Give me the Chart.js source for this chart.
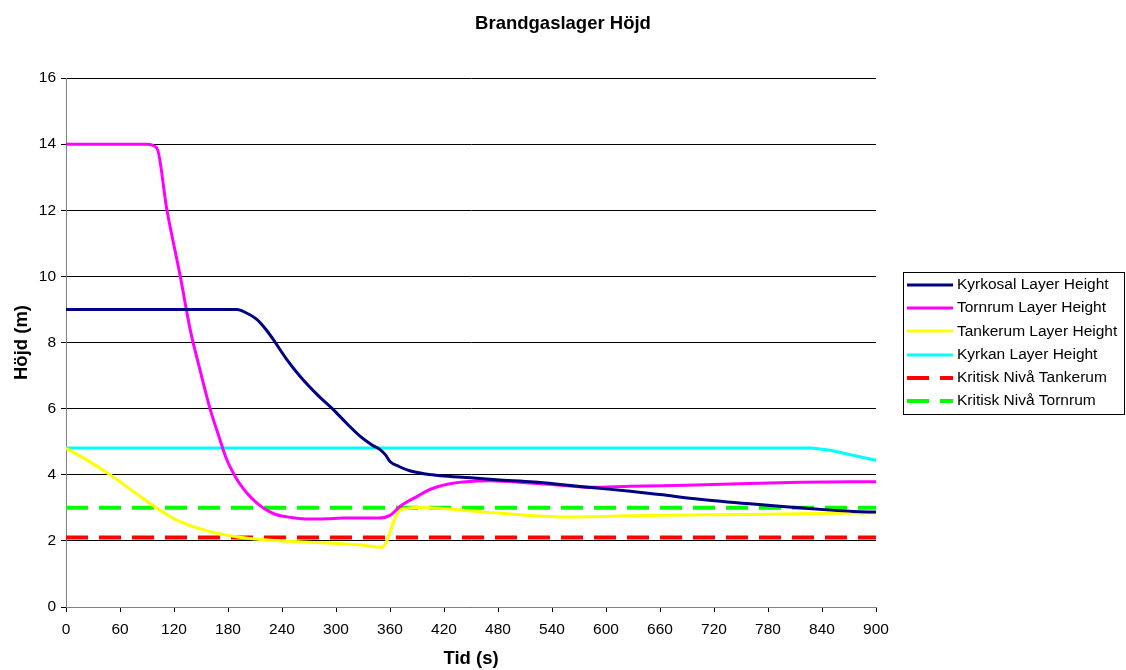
<!DOCTYPE html>
<html>
<head>
<meta charset="utf-8">
<title>Brandgaslager Höjd</title>
<script src="https://cdn.jsdelivr.net/npm/chart.js@4.4.1/dist/chart.umd.min.js"></script>
<style>
  html, body { margin: 0; padding: 0; background: #fff; }
  #wrap { width: 1126px; height: 670px; }
</style>
</head>
<body>
<div id="wrap"><canvas id="heightChart" width="1126" height="670"></canvas></div>
<script>
  // Data (time in s, height in m)
  const kyrkosalTime = [0, 190, 200, 212, 222, 230, 245, 260, 280, 297, 312, 327, 340, 349, 355, 360, 370, 382, 400, 416, 450, 478, 520, 552, 593, 627, 660, 704, 760, 816, 850, 875, 900];
  const kyrkosalHeight = [9, 9, 8.9, 8.7, 8.4, 8.1, 7.5, 6.98, 6.4, 5.97, 5.55, 5.16, 4.9, 4.76, 4.6, 4.4, 4.25, 4.12, 4.02, 3.97, 3.91, 3.85, 3.78, 3.7, 3.59, 3.5, 3.4, 3.26, 3.12, 3.0, 2.93, 2.89, 2.87];

  const tornrumTime = [0, 90, 101, 112, 127, 138, 150, 160, 170, 178, 188, 197, 206, 216, 225, 234, 250, 271, 290, 308, 330, 349, 360, 371, 380, 390, 400, 412, 425, 441, 471, 516, 550, 582, 627, 700, 816, 900];
  const tornrumHeight = [14, 14, 13.88, 12.03, 10.0, 8.39, 7.05, 6.0, 5.15, 4.5, 3.95, 3.58, 3.3, 3.06, 2.9, 2.79, 2.71, 2.66, 2.67, 2.69, 2.69, 2.69, 2.77, 3.04, 3.2, 3.34, 3.5, 3.63, 3.72, 3.78, 3.82, 3.75, 3.68, 3.62, 3.65, 3.69, 3.77, 3.79];

  const tankerumTime = [0, 23, 49, 75, 101, 127, 160, 193, 216, 271, 327, 351, 371, 391, 479, 552, 600, 627, 760, 900];
  const tankerumHeight = [4.8, 4.45, 4.0, 3.49, 2.99, 2.58, 2.28, 2.11, 2.04, 1.96, 1.88, 1.81, 2.92, 3.01, 2.84, 2.72, 2.74, 2.76, 2.8, 2.85];

  const kyrkanTime = [0, 829, 849, 900];
  const kyrkanHeight = [4.81, 4.81, 4.74, 4.44];

  const critTime = [0, 900];
  const critTankerum = [2.1, 2.1];
  const critTornrum = [3.0, 3.0];

  const seriesLabels = [
    "Kyrkosal Layer Height",
    "Tornrum Layer Height",
    "Tankerum Layer Height",
    "Kyrkan Layer Height",
    "Kritisk Nivå Tankerum",
    "Kritisk Nivå Tornrum",
  ];
  const seriesColors = ["#000080", "#ff00ff", "#ffff00", "#00ffff", "#ff0000", "#00ff00"];

  const xTicks = [0, 60, 120, 180, 240, 300, 360, 420, 480, 540, 600, 660, 720, 780, 840, 900];
  const yTicks = [0, 2, 4, 6, 8, 10, 12, 14, 16];

  const FONT = "'Liberation Sans', Arial, sans-serif";

  function toPoints(times, values) {
    return times.map((t, i) => ({ x: t, y: values[i] }));
  }

  function lineSet(idx, times, values, dashed, smooth) {
    return {
      label: seriesLabels[idx],
      data: toPoints(times, values),
      borderColor: seriesColors[idx],
      backgroundColor: seriesColors[idx],
      borderWidth: dashed ? 4 : 3,
      borderDash: dashed ? [22, 11] : [],
      borderCapStyle: "butt",
      pointRadius: 0,
      cubicInterpolationMode: smooth ? "monotone" : "default",
      tension: 0,
      fill: false,
    };
  }

  // Legend drawn as a bordered box on the right, like the original
  const boxLegend = {
    id: "boxLegend",
    afterDraw(chart) {
      const ctx = chart.ctx;
      const left = 903, top = 272, w = 221, h = 142;
      ctx.save();
      ctx.strokeStyle = "#000";
      ctx.lineWidth = 1;
      ctx.strokeRect(left + 0.5, top + 0.5, w, h);
      ctx.font = "15.5px " + FONT;
      ctx.fillStyle = "#000";
      ctx.textBaseline = "middle";
      chart.data.datasets.forEach((ds, i) => {
        const y = top + 13 + i * 23.2;
        ctx.beginPath();
        ctx.strokeStyle = ds.borderColor;
        ctx.lineWidth = ds.borderWidth;
        ctx.setLineDash(ds.borderDash.length ? ds.borderDash : []);
        ctx.moveTo(907, Math.round(y));
        ctx.lineTo(953, Math.round(y));
        ctx.stroke();
        ctx.setLineDash([]);
        ctx.fillText(ds.label, 957, y);
      });
      ctx.restore();
    },
  };

  const ctx = document.getElementById("heightChart");
  new Chart(ctx, {
    type: "line",
    data: {
      datasets: [
        lineSet(0, kyrkosalTime, kyrkosalHeight, false, true),
        lineSet(1, tornrumTime, tornrumHeight, false, true),
        lineSet(2, tankerumTime, tankerumHeight, false, true),
        lineSet(3, kyrkanTime, kyrkanHeight, false, false),
        lineSet(4, critTime, critTankerum, true, false),
        lineSet(5, critTime, critTornrum, true, false),
      ],
    },
    options: {
      responsive: false,
      animation: false,
      layout: { padding: 0 },
      plugins: {
        legend: { display: false },
        tooltip: { enabled: false },
        title: {
          display: true,
          text: "Brandgaslager Höjd",
          color: "#000",
          font: { family: FONT, size: 18.5, weight: "bold" },
          padding: { top: 13, bottom: 42.8 },
        },
      },
      scales: {
        x: {
          type: "linear",
          min: 0,
          max: 900,
          afterFit: (scale) => { scale.height = 63; },
          afterBuildTicks: (scale) => { scale.ticks = xTicks.map((v) => ({ value: v })); },
          ticks: {
            color: "#000",
            font: { family: FONT, size: 15.5 },
            padding: 8,
            maxRotation: 0,
            autoSkip: false,
          },
          grid: { drawOnChartArea: false, drawTicks: true, tickLength: 5, tickColor: "#000" },
          border: { color: "#808080", width: 1 },
          title: {
            display: true,
            text: "Tid (s)",
            color: "#000",
            font: { family: FONT, size: 18.5, weight: "bold" },
            padding: { top: 0, bottom: 0 },
          },
        },
        y: {
          min: 0,
          max: 16,
          afterFit: (scale) => { scale.width = 66; },
          afterBuildTicks: (scale) => { scale.ticks = yTicks.map((v) => ({ value: v })); },
          ticks: {
            color: "#000",
            font: { family: FONT, size: 15.5 },
            padding: 5,
          },
          grid: { color: "#000", lineWidth: 1, tickLength: 5, tickColor: "#000" },
          border: { color: "#808080", width: 1 },
          title: {
            display: true,
            text: "Höjd (m)",
            color: "#000",
            font: { family: FONT, size: 18.5, weight: "bold" },
            padding: { top: 11, bottom: 0 },
          },
        },
        // empty right axis that reserves the legend space
        legendSpace: {
          position: "right",
          min: 0,
          max: 16,
          afterFit: (scale) => { scale.width = 250; },
          ticks: { display: false },
          grid: { display: false, drawOnChartArea: false },
          border: { display: false },
        },
      },
    },
    plugins: [boxLegend],
  });
</script>
</body>
</html>
